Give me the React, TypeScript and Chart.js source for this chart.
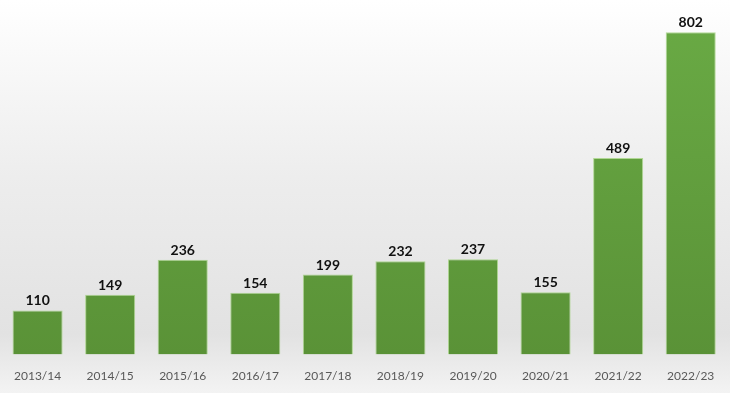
import React, { useEffect, useRef } from "react";
import { Chart, registerables } from "chart.js";

Chart.register(...registerables);

const categories = ["2013/14", "2014/15", "2015/16", "2016/17", "2017/18", "2018/19", "2019/20", "2020/21", "2021/22", "2022/23"];
const values = [110, 149, 236, 154, 199, 232, 237, 155, 489, 802];

const bgPlugin = {
  id: "bgGradient",
  beforeDraw(chart: any) {
    const { ctx, width, height } = chart;
    const g = ctx.createLinearGradient(0, 0, 0, height);
    g.addColorStop(0, "#ffffff");
    g.addColorStop(0.45, "#ededed");
    g.addColorStop(0.85, "#e2e2e2");
    g.addColorStop(1, "#f3f3f3");
    ctx.save();
    ctx.fillStyle = g;
    ctx.fillRect(0, 0, width, height);
    ctx.restore();
  },
};

const labelPlugin = {
  id: "valueLabels",
  afterDatasetsDraw(chart: any) {
    const { ctx } = chart;
    const meta = chart.getDatasetMeta(0);
    ctx.save();
    ctx.font = "bold 14px Lato";
    ctx.fillStyle = "#111111";
    ctx.textAlign = "center";
    ctx.textBaseline = "alphabetic";
    meta.data.forEach((bar: any, i: number) => {
      ctx.fillText(String(values[i]), bar.x, bar.y - 5);
    });
    ctx.restore();
  },
};

export default function App() {
  const ref = useRef<HTMLCanvasElement>(null);
  useEffect(() => {
    document.body.style.margin = "0";
    const canvas = ref.current!;
    const chart = new Chart(canvas, {
      type: "bar",
      data: {
        labels: categories,
        datasets: [
          {
            data: values,
            backgroundColor: (c: any) => {
              const ch = c.chart;
              const area = ch.chartArea;
              if (!area) return "#62a03d";
              const g = ch.ctx.createLinearGradient(0, area.top, 0, area.bottom);
              g.addColorStop(0, "#6aab45");
              g.addColorStop(1, "#5a9237");
              return g;
            },
            borderColor: "rgba(150,205,110,0.7)",
            borderWidth: 1,
            barPercentage: 0.69,
            categoryPercentage: 1,
          },
        ],
      },
      options: {
        responsive: false,
        animation: false,
        layout: { padding: { left: -4, right: 3, top: 0, bottom: -4 } },
        plugins: { legend: { display: false }, tooltip: { enabled: false } },
        scales: {
          x: {
            grid: { display: false, drawTicks: false },
            border: { display: false },
            ticks: { color: "#595959", font: { family: "Lato", size: 12 }, padding: 14 },
          },
          y: {
            display: false,
            min: 0,
            max: 882,
          },
        },
      },
      plugins: [bgPlugin, labelPlugin],
    });
    return () => chart.destroy();
  }, []);
  return (
    <div style={{ width: 730, height: 393 }}>
      <canvas ref={ref} width={730} height={393} style={{ display: "block" }} />
    </div>
  );
}
